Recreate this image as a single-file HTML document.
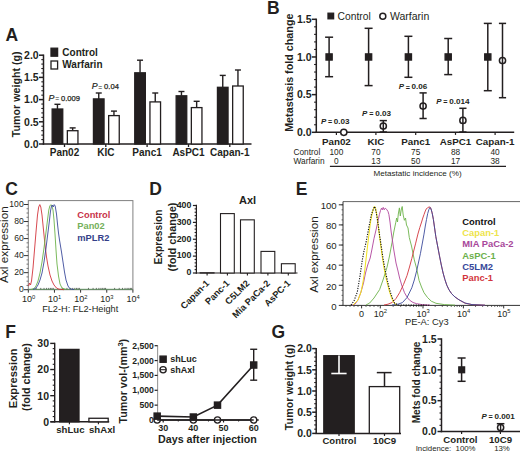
<!DOCTYPE html>
<html><head><meta charset="utf-8"><style>
html,body{margin:0;padding:0;background:#fff;}
svg{display:block;font-family:'Liberation Sans', sans-serif;}
</style></head><body>
<svg width="520" height="452" viewBox="0 0 520 452">
<rect width="520" height="452" fill="#fff"/>
<text x="5.60" y="41.40" font-size="17.5" font-weight="bold" text-anchor="start" fill="#231f20"  style="">A</text>
<line x1="43.50" y1="54.50" x2="43.50" y2="144.70" stroke="#231f20" stroke-width="1.5" />
<line x1="39.00" y1="55.20" x2="43.50" y2="55.20" stroke="#231f20" stroke-width="1.5" />
<line x1="39.00" y1="77.40" x2="43.50" y2="77.40" stroke="#231f20" stroke-width="1.5" />
<line x1="39.00" y1="99.60" x2="43.50" y2="99.60" stroke="#231f20" stroke-width="1.5" />
<line x1="39.00" y1="121.80" x2="43.50" y2="121.80" stroke="#231f20" stroke-width="1.5" />
<line x1="39.00" y1="144.00" x2="43.50" y2="144.00" stroke="#231f20" stroke-width="1.5" />
<line x1="41.30" y1="59.64" x2="43.50" y2="59.64" stroke="#231f20" stroke-width="1.1" />
<line x1="41.30" y1="64.08" x2="43.50" y2="64.08" stroke="#231f20" stroke-width="1.1" />
<line x1="41.30" y1="68.52" x2="43.50" y2="68.52" stroke="#231f20" stroke-width="1.1" />
<line x1="41.30" y1="72.96" x2="43.50" y2="72.96" stroke="#231f20" stroke-width="1.1" />
<line x1="41.30" y1="81.84" x2="43.50" y2="81.84" stroke="#231f20" stroke-width="1.1" />
<line x1="41.30" y1="86.28" x2="43.50" y2="86.28" stroke="#231f20" stroke-width="1.1" />
<line x1="41.30" y1="90.72" x2="43.50" y2="90.72" stroke="#231f20" stroke-width="1.1" />
<line x1="41.30" y1="95.16" x2="43.50" y2="95.16" stroke="#231f20" stroke-width="1.1" />
<line x1="41.30" y1="104.04" x2="43.50" y2="104.04" stroke="#231f20" stroke-width="1.1" />
<line x1="41.30" y1="108.48" x2="43.50" y2="108.48" stroke="#231f20" stroke-width="1.1" />
<line x1="41.30" y1="112.92" x2="43.50" y2="112.92" stroke="#231f20" stroke-width="1.1" />
<line x1="41.30" y1="117.36" x2="43.50" y2="117.36" stroke="#231f20" stroke-width="1.1" />
<line x1="41.30" y1="126.24" x2="43.50" y2="126.24" stroke="#231f20" stroke-width="1.1" />
<line x1="41.30" y1="130.68" x2="43.50" y2="130.68" stroke="#231f20" stroke-width="1.1" />
<line x1="41.30" y1="135.12" x2="43.50" y2="135.12" stroke="#231f20" stroke-width="1.1" />
<line x1="41.30" y1="139.56" x2="43.50" y2="139.56" stroke="#231f20" stroke-width="1.1" />
<line x1="42.80" y1="144.00" x2="251.50" y2="144.00" stroke="#231f20" stroke-width="1.5" />
<text x="38.70" y="59.00" font-size="10.5" font-weight="bold" text-anchor="end" fill="#231f20"  style="">2.0</text>
<text x="38.70" y="81.20" font-size="10.5" font-weight="bold" text-anchor="end" fill="#231f20"  style="">1.5</text>
<text x="38.70" y="103.40" font-size="10.5" font-weight="bold" text-anchor="end" fill="#231f20"  style="">1.0</text>
<text x="38.70" y="125.60" font-size="10.5" font-weight="bold" text-anchor="end" fill="#231f20"  style="">0.5</text>
<text x="38.70" y="147.80" font-size="10.5" font-weight="bold" text-anchor="end" fill="#231f20"  style="">0.0</text>
<text transform="translate(20.10,94.30) rotate(-90)" x="0" y="0" font-size="10.7" font-weight="bold" text-anchor="middle" fill="#231f20">Tumor weight (g)</text>
<rect x="51.00" y="48.20" width="6.60" height="8.00" fill="#231f20" stroke="#231f20" stroke-width="1.3"/>
<rect x="51.00" y="61.00" width="6.60" height="8.00" fill="#fff" stroke="#231f20" stroke-width="1.3"/>
<text x="62.30" y="55.90" font-size="10" font-weight="bold" text-anchor="start" fill="#231f20"  style="">Control</text>
<text x="62.30" y="68.40" font-size="10" font-weight="bold" text-anchor="start" fill="#231f20"  style="">Warfarin</text>
<line x1="57.45" y1="109.00" x2="57.45" y2="104.30" stroke="#231f20" stroke-width="1.4" />
<line x1="54.45" y1="104.30" x2="60.45" y2="104.30" stroke="#231f20" stroke-width="1.4" />
<rect x="52.15" y="109.00" width="10.60" height="35.00" fill="#231f20" stroke="#231f20" stroke-width="1.3"/>
<line x1="72.65" y1="130.70" x2="72.65" y2="127.90" stroke="#231f20" stroke-width="1.4" />
<line x1="69.65" y1="127.90" x2="75.65" y2="127.90" stroke="#231f20" stroke-width="1.4" />
<rect x="67.35" y="130.70" width="10.60" height="13.30" fill="#fff" stroke="#231f20" stroke-width="1.3"/>
<line x1="64.50" y1="144.00" x2="64.50" y2="147.00" stroke="#231f20" stroke-width="1.3" />
<text x="64.50" y="155.50" font-size="10" font-weight="bold" text-anchor="middle" fill="#231f20"  style="">Pan02</text>
<line x1="98.75" y1="98.90" x2="98.75" y2="93.00" stroke="#231f20" stroke-width="1.4" />
<line x1="95.75" y1="93.00" x2="101.75" y2="93.00" stroke="#231f20" stroke-width="1.4" />
<rect x="93.45" y="98.90" width="10.60" height="45.10" fill="#231f20" stroke="#231f20" stroke-width="1.3"/>
<line x1="113.95" y1="115.60" x2="113.95" y2="111.10" stroke="#231f20" stroke-width="1.4" />
<line x1="110.95" y1="111.10" x2="116.95" y2="111.10" stroke="#231f20" stroke-width="1.4" />
<rect x="108.65" y="115.60" width="10.60" height="28.40" fill="#fff" stroke="#231f20" stroke-width="1.3"/>
<line x1="105.80" y1="144.00" x2="105.80" y2="147.00" stroke="#231f20" stroke-width="1.3" />
<text x="105.80" y="155.50" font-size="10" font-weight="bold" text-anchor="middle" fill="#231f20"  style="">KIC</text>
<line x1="140.05" y1="72.80" x2="140.05" y2="60.20" stroke="#231f20" stroke-width="1.4" />
<line x1="137.05" y1="60.20" x2="143.05" y2="60.20" stroke="#231f20" stroke-width="1.4" />
<rect x="134.75" y="72.80" width="10.60" height="71.20" fill="#231f20" stroke="#231f20" stroke-width="1.3"/>
<line x1="155.25" y1="101.90" x2="155.25" y2="93.00" stroke="#231f20" stroke-width="1.4" />
<line x1="152.25" y1="93.00" x2="158.25" y2="93.00" stroke="#231f20" stroke-width="1.4" />
<rect x="149.95" y="101.90" width="10.60" height="42.10" fill="#fff" stroke="#231f20" stroke-width="1.3"/>
<line x1="147.10" y1="144.00" x2="147.10" y2="147.00" stroke="#231f20" stroke-width="1.3" />
<text x="147.10" y="155.50" font-size="10" font-weight="bold" text-anchor="middle" fill="#231f20"  style="">Panc1</text>
<line x1="181.45" y1="95.80" x2="181.45" y2="91.50" stroke="#231f20" stroke-width="1.4" />
<line x1="178.45" y1="91.50" x2="184.45" y2="91.50" stroke="#231f20" stroke-width="1.4" />
<rect x="176.15" y="95.80" width="10.60" height="48.20" fill="#231f20" stroke="#231f20" stroke-width="1.3"/>
<line x1="196.65" y1="107.60" x2="196.65" y2="101.30" stroke="#231f20" stroke-width="1.4" />
<line x1="193.65" y1="101.30" x2="199.65" y2="101.30" stroke="#231f20" stroke-width="1.4" />
<rect x="191.35" y="107.60" width="10.60" height="36.40" fill="#fff" stroke="#231f20" stroke-width="1.3"/>
<line x1="188.50" y1="144.00" x2="188.50" y2="147.00" stroke="#231f20" stroke-width="1.3" />
<text x="188.50" y="155.50" font-size="10" font-weight="bold" text-anchor="middle" fill="#231f20"  style="">AsPC1</text>
<line x1="222.75" y1="87.30" x2="222.75" y2="75.40" stroke="#231f20" stroke-width="1.4" />
<line x1="219.75" y1="75.40" x2="225.75" y2="75.40" stroke="#231f20" stroke-width="1.4" />
<rect x="217.45" y="87.30" width="10.60" height="56.70" fill="#231f20" stroke="#231f20" stroke-width="1.3"/>
<line x1="237.95" y1="86.00" x2="237.95" y2="70.00" stroke="#231f20" stroke-width="1.4" />
<line x1="234.95" y1="70.00" x2="240.95" y2="70.00" stroke="#231f20" stroke-width="1.4" />
<rect x="232.65" y="86.00" width="10.60" height="58.00" fill="#fff" stroke="#231f20" stroke-width="1.3"/>
<line x1="229.80" y1="144.00" x2="229.80" y2="147.00" stroke="#231f20" stroke-width="1.3" />
<text x="229.80" y="155.50" font-size="10" font-weight="bold" text-anchor="middle" fill="#231f20"  style="">Capan-1</text>
<text y="100.5" font-size="7.6" fill="#231f20"><tspan x="48.6" font-style="italic" font-size="8.8" stroke="#231f20" stroke-width="0.2">P</tspan><tspan x="55.2" font-size="6.8" dy="0.3">=</tspan><tspan x="61.0" dy="-0.3" stroke="#231f20" stroke-width="0.25">0.009</tspan></text>
<text y="89.4" font-size="7.6" fill="#231f20"><tspan x="91.7" font-style="italic" font-size="8.8" stroke="#231f20" stroke-width="0.2">P</tspan><tspan x="98.3" font-size="6.8" dy="0.3">=</tspan><tspan x="104.1" dy="-0.3" stroke="#231f20" stroke-width="0.25">0.04</tspan></text>
<text x="267.00" y="14.30" font-size="17.5" font-weight="bold" text-anchor="start" fill="#231f20"  style="">B</text>
<line x1="316.30" y1="18.60" x2="316.30" y2="133.00" stroke="#231f20" stroke-width="1.5" />
<line x1="311.80" y1="19.30" x2="316.30" y2="19.30" stroke="#231f20" stroke-width="1.5" />
<line x1="311.80" y1="56.97" x2="316.30" y2="56.97" stroke="#231f20" stroke-width="1.5" />
<line x1="311.80" y1="94.63" x2="316.30" y2="94.63" stroke="#231f20" stroke-width="1.5" />
<line x1="311.80" y1="132.30" x2="316.30" y2="132.30" stroke="#231f20" stroke-width="1.5" />
<line x1="314.10" y1="26.83" x2="316.30" y2="26.83" stroke="#231f20" stroke-width="1.1" />
<line x1="314.10" y1="34.37" x2="316.30" y2="34.37" stroke="#231f20" stroke-width="1.1" />
<line x1="314.10" y1="41.90" x2="316.30" y2="41.90" stroke="#231f20" stroke-width="1.1" />
<line x1="314.10" y1="49.43" x2="316.30" y2="49.43" stroke="#231f20" stroke-width="1.1" />
<line x1="314.10" y1="64.50" x2="316.30" y2="64.50" stroke="#231f20" stroke-width="1.1" />
<line x1="314.10" y1="72.03" x2="316.30" y2="72.03" stroke="#231f20" stroke-width="1.1" />
<line x1="314.10" y1="79.57" x2="316.30" y2="79.57" stroke="#231f20" stroke-width="1.1" />
<line x1="314.10" y1="87.10" x2="316.30" y2="87.10" stroke="#231f20" stroke-width="1.1" />
<line x1="314.10" y1="102.17" x2="316.30" y2="102.17" stroke="#231f20" stroke-width="1.1" />
<line x1="314.10" y1="109.70" x2="316.30" y2="109.70" stroke="#231f20" stroke-width="1.1" />
<line x1="314.10" y1="117.23" x2="316.30" y2="117.23" stroke="#231f20" stroke-width="1.1" />
<line x1="314.10" y1="124.77" x2="316.30" y2="124.77" stroke="#231f20" stroke-width="1.1" />
<line x1="315.60" y1="132.30" x2="514.20" y2="132.30" stroke="#231f20" stroke-width="1.5" />
<text x="311.60" y="23.10" font-size="10.5" font-weight="bold" text-anchor="end" fill="#231f20"  style="">1.5</text>
<text x="311.60" y="60.77" font-size="10.5" font-weight="bold" text-anchor="end" fill="#231f20"  style="">1.0</text>
<text x="311.60" y="98.43" font-size="10.5" font-weight="bold" text-anchor="end" fill="#231f20"  style="">0.5</text>
<text x="311.60" y="136.10" font-size="10.5" font-weight="bold" text-anchor="end" fill="#231f20"  style="">0.0</text>
<text transform="translate(293.10,72.70) rotate(-90)" x="0" y="0" font-size="10.75" font-weight="bold" text-anchor="middle" fill="#231f20">Metastasis fold change</text>
<rect x="328.00" y="13.20" width="5.60" height="5.60" fill="#231f20" stroke="#231f20" stroke-width="1.3"/>
<circle cx="382.8" cy="16.2" r="3.0" fill="#fff" stroke="#231f20" stroke-width="1.5"/>
<text x="337.60" y="19.80" font-size="10.3" font-weight="normal" text-anchor="start" fill="#231f20"  style="">Control</text>
<text x="390.00" y="19.80" font-size="10.5" font-weight="normal" text-anchor="start" fill="#231f20"  style="">Warfarin</text>
<line x1="329.10" y1="37.20" x2="329.10" y2="76.70" stroke="#231f20" stroke-width="1.5" />
<line x1="325.10" y1="37.20" x2="333.10" y2="37.20" stroke="#231f20" stroke-width="1.5" />
<line x1="325.10" y1="76.70" x2="333.10" y2="76.70" stroke="#231f20" stroke-width="1.5" />
<rect x="326.00" y="53.87" width="6.20" height="6.20" fill="#231f20" stroke="#231f20" stroke-width="1.3"/>
<circle cx="343.80" cy="132.30" r="3.1" fill="#fff" stroke="#231f20" stroke-width="1.5"/>
<text x="336.40" y="144.50" font-size="9.8" font-weight="bold" text-anchor="middle" fill="#231f20"  style="">Pan02</text>
<line x1="336.40" y1="132.30" x2="336.40" y2="134.90" stroke="#231f20" stroke-width="1.2" />
<text x="336.40" y="155.40" font-size="8.3" font-weight="normal" text-anchor="middle" fill="#231f20"  style="">100</text>
<text x="336.40" y="163.90" font-size="8.3" font-weight="normal" text-anchor="middle" fill="#231f20"  style="">0</text>
<text y="123.50" font-size="8.1" fill="#231f20"><tspan x="321.00" font-style="italic" font-weight="bold" font-size="7.9">P</tspan><tspan x="328.10" font-weight="bold" font-size="7.2" dy="0.4">=</tspan><tspan x="333.80" font-weight="bold" dy="-0.4">0.03</tspan></text>
<line x1="368.60" y1="28.30" x2="368.60" y2="85.60" stroke="#231f20" stroke-width="1.5" />
<line x1="364.60" y1="28.30" x2="372.60" y2="28.30" stroke="#231f20" stroke-width="1.5" />
<line x1="364.60" y1="85.60" x2="372.60" y2="85.60" stroke="#231f20" stroke-width="1.5" />
<rect x="365.50" y="53.87" width="6.20" height="6.20" fill="#231f20" stroke="#231f20" stroke-width="1.3"/>
<circle cx="383.30" cy="126.10" r="3.1" fill="#fff" stroke="#231f20" stroke-width="1.5"/>
<line x1="383.30" y1="120.60" x2="383.30" y2="132.00" stroke="#231f20" stroke-width="1.5" />
<line x1="379.70" y1="120.60" x2="386.90" y2="120.60" stroke="#231f20" stroke-width="1.5" />
<line x1="379.70" y1="132.00" x2="386.90" y2="132.00" stroke="#231f20" stroke-width="1.5" />
<text x="375.90" y="144.50" font-size="9.8" font-weight="bold" text-anchor="middle" fill="#231f20"  style="">KIC</text>
<line x1="375.90" y1="132.30" x2="375.90" y2="134.90" stroke="#231f20" stroke-width="1.2" />
<text x="375.90" y="155.40" font-size="8.3" font-weight="normal" text-anchor="middle" fill="#231f20"  style="">70</text>
<text x="375.90" y="163.90" font-size="8.3" font-weight="normal" text-anchor="middle" fill="#231f20"  style="">13</text>
<text y="116.00" font-size="8.1" fill="#231f20"><tspan x="362.10" font-style="italic" font-weight="bold" font-size="7.9">P</tspan><tspan x="369.20" font-weight="bold" font-size="7.2" dy="0.4">=</tspan><tspan x="375.20" font-weight="bold" dy="-0.4">0.03</tspan></text>
<line x1="408.40" y1="36.30" x2="408.40" y2="77.30" stroke="#231f20" stroke-width="1.5" />
<line x1="404.40" y1="36.30" x2="412.40" y2="36.30" stroke="#231f20" stroke-width="1.5" />
<line x1="404.40" y1="77.30" x2="412.40" y2="77.30" stroke="#231f20" stroke-width="1.5" />
<rect x="405.30" y="53.87" width="6.20" height="6.20" fill="#231f20" stroke="#231f20" stroke-width="1.3"/>
<circle cx="423.10" cy="106.10" r="3.1" fill="#fff" stroke="#231f20" stroke-width="1.5"/>
<line x1="423.10" y1="92.90" x2="423.10" y2="118.50" stroke="#231f20" stroke-width="1.5" />
<line x1="419.50" y1="92.90" x2="426.70" y2="92.90" stroke="#231f20" stroke-width="1.5" />
<line x1="419.50" y1="118.50" x2="426.70" y2="118.50" stroke="#231f20" stroke-width="1.5" />
<text x="415.70" y="144.50" font-size="9.8" font-weight="bold" text-anchor="middle" fill="#231f20"  style="">Panc1</text>
<line x1="415.70" y1="132.30" x2="415.70" y2="134.90" stroke="#231f20" stroke-width="1.2" />
<text x="415.70" y="155.40" font-size="8.3" font-weight="normal" text-anchor="middle" fill="#231f20"  style="">75</text>
<text x="415.70" y="163.90" font-size="8.3" font-weight="normal" text-anchor="middle" fill="#231f20"  style="">50</text>
<text y="89.30" font-size="8.1" fill="#231f20"><tspan x="398.70" font-style="italic" font-weight="bold" font-size="7.9">P</tspan><tspan x="405.80" font-weight="bold" font-size="7.2" dy="0.4">=</tspan><tspan x="411.60" font-weight="bold" dy="-0.4">0.06</tspan></text>
<line x1="448.20" y1="38.50" x2="448.20" y2="74.60" stroke="#231f20" stroke-width="1.5" />
<line x1="444.20" y1="38.50" x2="452.20" y2="38.50" stroke="#231f20" stroke-width="1.5" />
<line x1="444.20" y1="74.60" x2="452.20" y2="74.60" stroke="#231f20" stroke-width="1.5" />
<rect x="445.10" y="53.87" width="6.20" height="6.20" fill="#231f20" stroke="#231f20" stroke-width="1.3"/>
<circle cx="462.90" cy="120.40" r="3.1" fill="#fff" stroke="#231f20" stroke-width="1.5"/>
<line x1="462.90" y1="108.30" x2="462.90" y2="132.00" stroke="#231f20" stroke-width="1.5" />
<line x1="459.30" y1="108.30" x2="466.50" y2="108.30" stroke="#231f20" stroke-width="1.5" />
<line x1="459.30" y1="132.00" x2="466.50" y2="132.00" stroke="#231f20" stroke-width="1.5" />
<text x="455.50" y="144.50" font-size="9.8" font-weight="bold" text-anchor="middle" fill="#231f20"  style="">AsPC1</text>
<line x1="455.50" y1="132.30" x2="455.50" y2="134.90" stroke="#231f20" stroke-width="1.2" />
<text x="455.50" y="155.40" font-size="8.3" font-weight="normal" text-anchor="middle" fill="#231f20"  style="">88</text>
<text x="455.50" y="163.90" font-size="8.3" font-weight="normal" text-anchor="middle" fill="#231f20"  style="">17</text>
<text y="103.50" font-size="8.1" fill="#231f20"><tspan x="436.20" font-style="italic" font-weight="bold" font-size="7.9">P</tspan><tspan x="443.30" font-weight="bold" font-size="7.2" dy="0.4">=</tspan><tspan x="449.30" font-weight="bold" dy="-0.4">0.014</tspan></text>
<line x1="487.80" y1="23.40" x2="487.80" y2="90.70" stroke="#231f20" stroke-width="1.5" />
<line x1="483.80" y1="23.40" x2="491.80" y2="23.40" stroke="#231f20" stroke-width="1.5" />
<line x1="483.80" y1="90.70" x2="491.80" y2="90.70" stroke="#231f20" stroke-width="1.5" />
<rect x="484.70" y="53.87" width="6.20" height="6.20" fill="#231f20" stroke="#231f20" stroke-width="1.3"/>
<circle cx="502.50" cy="60.60" r="3.1" fill="#fff" stroke="#231f20" stroke-width="1.5"/>
<line x1="502.50" y1="23.40" x2="502.50" y2="97.70" stroke="#231f20" stroke-width="1.5" />
<line x1="498.90" y1="23.40" x2="506.10" y2="23.40" stroke="#231f20" stroke-width="1.5" />
<line x1="498.90" y1="97.70" x2="506.10" y2="97.70" stroke="#231f20" stroke-width="1.5" />
<text x="495.10" y="144.50" font-size="9.8" font-weight="bold" text-anchor="middle" fill="#231f20"  style="">Capan-1</text>
<line x1="495.10" y1="132.30" x2="495.10" y2="134.90" stroke="#231f20" stroke-width="1.2" />
<text x="495.10" y="155.40" font-size="8.3" font-weight="normal" text-anchor="middle" fill="#231f20"  style="">40</text>
<text x="495.10" y="163.90" font-size="8.3" font-weight="normal" text-anchor="middle" fill="#231f20"  style="">38</text>
<text x="293.50" y="155.40" font-size="8.3" font-weight="normal" text-anchor="start" fill="#231f20"  style="">Control</text>
<text x="293.50" y="163.90" font-size="8.3" font-weight="normal" text-anchor="start" fill="#231f20"  style="">Warfarin</text>
<line x1="329.90" y1="166.30" x2="506.00" y2="166.30" stroke="#231f20" stroke-width="1.2" />
<text x="417.60" y="176.20" font-size="8.1" font-weight="normal" text-anchor="middle" fill="#231f20"  style="">Metastatic incidence (%)</text>
<text x="5.20" y="195.20" font-size="17.5" font-weight="bold" text-anchor="start" fill="#231f20"  style="">C</text>
<rect x="28.3" y="200.6" width="104.60" height="89.10" fill="none" stroke="#808080" stroke-width="1"/>
<line x1="23.80" y1="289.70" x2="28.30" y2="289.70" stroke="#333" stroke-width="1.0" />
<text x="23.70" y="292.30" font-size="8.6" font-weight="normal" text-anchor="end" fill="#231f20"  style="">0</text>
<line x1="23.80" y1="272.66" x2="28.30" y2="272.66" stroke="#333" stroke-width="1.0" />
<text x="23.70" y="275.26" font-size="8.6" font-weight="normal" text-anchor="end" fill="#231f20"  style="">20</text>
<line x1="23.80" y1="255.62" x2="28.30" y2="255.62" stroke="#333" stroke-width="1.0" />
<text x="23.70" y="258.22" font-size="8.6" font-weight="normal" text-anchor="end" fill="#231f20"  style="">40</text>
<line x1="23.80" y1="238.58" x2="28.30" y2="238.58" stroke="#333" stroke-width="1.0" />
<text x="23.70" y="241.18" font-size="8.6" font-weight="normal" text-anchor="end" fill="#231f20"  style="">60</text>
<line x1="23.80" y1="221.54" x2="28.30" y2="221.54" stroke="#333" stroke-width="1.0" />
<text x="23.70" y="224.14" font-size="8.6" font-weight="normal" text-anchor="end" fill="#231f20"  style="">80</text>
<line x1="23.80" y1="204.50" x2="28.30" y2="204.50" stroke="#333" stroke-width="1.0" />
<text x="23.70" y="207.10" font-size="8.6" font-weight="normal" text-anchor="end" fill="#231f20"  style="">100</text>
<line x1="26.50" y1="285.44" x2="28.30" y2="285.44" stroke="#444" stroke-width="0.7" />
<line x1="26.50" y1="281.18" x2="28.30" y2="281.18" stroke="#444" stroke-width="0.7" />
<line x1="26.50" y1="276.92" x2="28.30" y2="276.92" stroke="#444" stroke-width="0.7" />
<line x1="26.50" y1="268.40" x2="28.30" y2="268.40" stroke="#444" stroke-width="0.7" />
<line x1="26.50" y1="264.14" x2="28.30" y2="264.14" stroke="#444" stroke-width="0.7" />
<line x1="26.50" y1="259.88" x2="28.30" y2="259.88" stroke="#444" stroke-width="0.7" />
<line x1="26.50" y1="251.36" x2="28.30" y2="251.36" stroke="#444" stroke-width="0.7" />
<line x1="26.50" y1="247.10" x2="28.30" y2="247.10" stroke="#444" stroke-width="0.7" />
<line x1="26.50" y1="242.84" x2="28.30" y2="242.84" stroke="#444" stroke-width="0.7" />
<line x1="26.50" y1="234.32" x2="28.30" y2="234.32" stroke="#444" stroke-width="0.7" />
<line x1="26.50" y1="230.06" x2="28.30" y2="230.06" stroke="#444" stroke-width="0.7" />
<line x1="26.50" y1="225.80" x2="28.30" y2="225.80" stroke="#444" stroke-width="0.7" />
<line x1="26.50" y1="217.28" x2="28.30" y2="217.28" stroke="#444" stroke-width="0.7" />
<line x1="26.50" y1="213.02" x2="28.30" y2="213.02" stroke="#444" stroke-width="0.7" />
<line x1="26.50" y1="208.76" x2="28.30" y2="208.76" stroke="#444" stroke-width="0.7" />
<line x1="28.30" y1="289.70" x2="28.30" y2="292.70" stroke="#333" stroke-width="1.0" />
<text x="21.90" y="302.3" font-size="9" fill="#231f20">10<tspan dy="-3.6" font-size="5.8">0</tspan></text>
<line x1="36.17" y1="289.70" x2="36.17" y2="287.90" stroke="#444" stroke-width="0.8" />
<line x1="40.78" y1="289.70" x2="40.78" y2="287.90" stroke="#444" stroke-width="0.8" />
<line x1="44.04" y1="289.70" x2="44.04" y2="287.90" stroke="#444" stroke-width="0.8" />
<line x1="46.58" y1="289.70" x2="46.58" y2="287.90" stroke="#444" stroke-width="0.8" />
<line x1="48.65" y1="289.70" x2="48.65" y2="287.90" stroke="#444" stroke-width="0.8" />
<line x1="50.40" y1="289.70" x2="50.40" y2="287.90" stroke="#444" stroke-width="0.8" />
<line x1="51.92" y1="289.70" x2="51.92" y2="287.90" stroke="#444" stroke-width="0.8" />
<line x1="53.25" y1="289.70" x2="53.25" y2="287.90" stroke="#444" stroke-width="0.8" />
<line x1="54.45" y1="289.70" x2="54.45" y2="292.70" stroke="#333" stroke-width="1.0" />
<text x="48.05" y="302.3" font-size="9" fill="#231f20">10<tspan dy="-3.6" font-size="5.8">1</tspan></text>
<line x1="62.32" y1="289.70" x2="62.32" y2="287.90" stroke="#444" stroke-width="0.8" />
<line x1="66.93" y1="289.70" x2="66.93" y2="287.90" stroke="#444" stroke-width="0.8" />
<line x1="70.19" y1="289.70" x2="70.19" y2="287.90" stroke="#444" stroke-width="0.8" />
<line x1="72.73" y1="289.70" x2="72.73" y2="287.90" stroke="#444" stroke-width="0.8" />
<line x1="74.80" y1="289.70" x2="74.80" y2="287.90" stroke="#444" stroke-width="0.8" />
<line x1="76.55" y1="289.70" x2="76.55" y2="287.90" stroke="#444" stroke-width="0.8" />
<line x1="78.07" y1="289.70" x2="78.07" y2="287.90" stroke="#444" stroke-width="0.8" />
<line x1="79.40" y1="289.70" x2="79.40" y2="287.90" stroke="#444" stroke-width="0.8" />
<line x1="80.60" y1="289.70" x2="80.60" y2="292.70" stroke="#333" stroke-width="1.0" />
<text x="74.20" y="302.3" font-size="9" fill="#231f20">10<tspan dy="-3.6" font-size="5.8">2</tspan></text>
<line x1="88.47" y1="289.70" x2="88.47" y2="287.90" stroke="#444" stroke-width="0.8" />
<line x1="93.08" y1="289.70" x2="93.08" y2="287.90" stroke="#444" stroke-width="0.8" />
<line x1="96.34" y1="289.70" x2="96.34" y2="287.90" stroke="#444" stroke-width="0.8" />
<line x1="98.88" y1="289.70" x2="98.88" y2="287.90" stroke="#444" stroke-width="0.8" />
<line x1="100.95" y1="289.70" x2="100.95" y2="287.90" stroke="#444" stroke-width="0.8" />
<line x1="102.70" y1="289.70" x2="102.70" y2="287.90" stroke="#444" stroke-width="0.8" />
<line x1="104.22" y1="289.70" x2="104.22" y2="287.90" stroke="#444" stroke-width="0.8" />
<line x1="105.55" y1="289.70" x2="105.55" y2="287.90" stroke="#444" stroke-width="0.8" />
<line x1="106.75" y1="289.70" x2="106.75" y2="292.70" stroke="#333" stroke-width="1.0" />
<text x="100.35" y="302.3" font-size="9" fill="#231f20">10<tspan dy="-3.6" font-size="5.8">3</tspan></text>
<line x1="114.62" y1="289.70" x2="114.62" y2="287.90" stroke="#444" stroke-width="0.8" />
<line x1="119.23" y1="289.70" x2="119.23" y2="287.90" stroke="#444" stroke-width="0.8" />
<line x1="122.49" y1="289.70" x2="122.49" y2="287.90" stroke="#444" stroke-width="0.8" />
<line x1="125.03" y1="289.70" x2="125.03" y2="287.90" stroke="#444" stroke-width="0.8" />
<line x1="127.10" y1="289.70" x2="127.10" y2="287.90" stroke="#444" stroke-width="0.8" />
<line x1="128.85" y1="289.70" x2="128.85" y2="287.90" stroke="#444" stroke-width="0.8" />
<line x1="130.37" y1="289.70" x2="130.37" y2="287.90" stroke="#444" stroke-width="0.8" />
<line x1="131.70" y1="289.70" x2="131.70" y2="287.90" stroke="#444" stroke-width="0.8" />
<line x1="132.90" y1="289.70" x2="132.90" y2="292.70" stroke="#333" stroke-width="1.0" />
<text x="126.50" y="302.3" font-size="9" fill="#231f20">10<tspan dy="-3.6" font-size="5.8">4</tspan></text>
<text transform="translate(8.20,244.60) rotate(-90)" x="0" y="0" font-size="11.8" font-weight="normal" text-anchor="middle" fill="#231f20">Axl expression</text>
<text x="80.20" y="312.20" font-size="9.2" font-weight="normal" text-anchor="middle" fill="#231f20"  style="">FL2-H: FL2-Height</text>
<text x="77.30" y="217.50" font-size="9.3" font-weight="bold" text-anchor="start" fill="#c8324a"  style="">Control</text>
<text x="77.30" y="229.40" font-size="9.3" font-weight="bold" text-anchor="start" fill="#74b05a"  style="">Pan02</text>
<text x="77.30" y="240.90" font-size="9.3" font-weight="bold" text-anchor="start" fill="#343f8a"  style="">mPLR2</text>
<line x1="28.80" y1="289.30" x2="132.40" y2="289.30" stroke="#5f8f5f" stroke-width="1.0" />
<polyline points="28.60,286.00 29.50,283.00 30.50,285.00 31.50,281.00 33.00,268.00 34.50,250.00 36.00,232.00 37.50,215.00 38.70,207.00 39.80,204.60 40.80,207.00 42.00,215.00 43.50,230.00 45.00,245.00 46.50,257.00 48.00,266.00 50.00,275.00 52.00,281.00 54.00,285.00 56.50,288.00 59.00,289.20 64.00,289.70" fill="none" stroke="#d2343c" stroke-width="0.9" stroke-linejoin="round" />
<polyline points="31.00,289.50 34.00,288.50 36.00,286.00 38.00,281.00 40.00,273.00 42.00,262.00 44.00,248.00 46.00,232.00 47.50,220.00 48.80,210.00 49.80,206.00 50.80,204.70 51.80,205.50 53.00,210.00 54.00,220.00 55.00,234.00 56.00,250.00 57.00,264.00 58.50,276.00 60.00,284.00 62.00,288.00 66.00,289.50" fill="none" stroke="#6cb24a" stroke-width="0.9" stroke-linejoin="round" />
<polyline points="33.00,289.50 36.00,288.00 38.00,285.00 40.00,280.00 42.00,273.00 44.00,262.00 46.00,248.00 48.00,232.00 49.50,220.00 50.50,211.00 51.50,206.00 52.30,205.00 53.20,207.00 54.20,204.60 55.20,206.00 56.50,214.00 57.50,224.00 58.50,233.00 59.50,240.00 60.50,246.00 61.50,252.00 63.00,262.00 64.50,272.00 66.00,280.00 68.00,286.00 70.00,288.80 74.00,289.60" fill="none" stroke="#3b4a9b" stroke-width="0.9" stroke-linejoin="round" />
<text x="149.30" y="195.30" font-size="17.5" font-weight="bold" text-anchor="start" fill="#231f20"  style="">D</text>
<line x1="196.40" y1="204.80" x2="196.40" y2="273.70" stroke="#231f20" stroke-width="1.2" />
<line x1="192.90" y1="205.50" x2="196.40" y2="205.50" stroke="#231f20" stroke-width="1.2" />
<line x1="192.90" y1="222.38" x2="196.40" y2="222.38" stroke="#231f20" stroke-width="1.2" />
<line x1="192.90" y1="239.25" x2="196.40" y2="239.25" stroke="#231f20" stroke-width="1.2" />
<line x1="192.90" y1="256.12" x2="196.40" y2="256.12" stroke="#231f20" stroke-width="1.2" />
<line x1="192.90" y1="273.00" x2="196.40" y2="273.00" stroke="#231f20" stroke-width="1.2" />
<line x1="194.60" y1="208.88" x2="196.40" y2="208.88" stroke="#231f20" stroke-width="1.1" />
<line x1="194.60" y1="212.25" x2="196.40" y2="212.25" stroke="#231f20" stroke-width="1.1" />
<line x1="194.60" y1="215.62" x2="196.40" y2="215.62" stroke="#231f20" stroke-width="1.1" />
<line x1="194.60" y1="219.00" x2="196.40" y2="219.00" stroke="#231f20" stroke-width="1.1" />
<line x1="194.60" y1="225.75" x2="196.40" y2="225.75" stroke="#231f20" stroke-width="1.1" />
<line x1="194.60" y1="229.12" x2="196.40" y2="229.12" stroke="#231f20" stroke-width="1.1" />
<line x1="194.60" y1="232.50" x2="196.40" y2="232.50" stroke="#231f20" stroke-width="1.1" />
<line x1="194.60" y1="235.88" x2="196.40" y2="235.88" stroke="#231f20" stroke-width="1.1" />
<line x1="194.60" y1="242.62" x2="196.40" y2="242.62" stroke="#231f20" stroke-width="1.1" />
<line x1="194.60" y1="246.00" x2="196.40" y2="246.00" stroke="#231f20" stroke-width="1.1" />
<line x1="194.60" y1="249.38" x2="196.40" y2="249.38" stroke="#231f20" stroke-width="1.1" />
<line x1="194.60" y1="252.75" x2="196.40" y2="252.75" stroke="#231f20" stroke-width="1.1" />
<line x1="194.60" y1="259.50" x2="196.40" y2="259.50" stroke="#231f20" stroke-width="1.1" />
<line x1="194.60" y1="262.88" x2="196.40" y2="262.88" stroke="#231f20" stroke-width="1.1" />
<line x1="194.60" y1="266.25" x2="196.40" y2="266.25" stroke="#231f20" stroke-width="1.1" />
<line x1="194.60" y1="269.62" x2="196.40" y2="269.62" stroke="#231f20" stroke-width="1.1" />
<line x1="195.80" y1="273.00" x2="297.50" y2="273.00" stroke="#231f20" stroke-width="1.2" />
<text x="191.40" y="207.80" font-size="8.8" font-weight="bold" text-anchor="end" fill="#231f20"  style="">400</text>
<text x="191.40" y="224.68" font-size="8.8" font-weight="bold" text-anchor="end" fill="#231f20"  style="">300</text>
<text x="191.40" y="241.55" font-size="8.8" font-weight="bold" text-anchor="end" fill="#231f20"  style="">200</text>
<text x="191.40" y="258.43" font-size="8.8" font-weight="bold" text-anchor="end" fill="#231f20"  style="">100</text>
<text x="191.40" y="275.30" font-size="8.8" font-weight="bold" text-anchor="end" fill="#231f20"  style="">0</text>
<text transform="translate(162.20,237.00) rotate(-90)" x="0" y="0" font-size="10.2" font-weight="bold" text-anchor="middle" fill="#231f20">Expression</text>
<text transform="translate(175.60,237.00) rotate(-90)" x="0" y="0" font-size="11.0" font-weight="bold" text-anchor="middle" fill="#231f20">(fold change)</text>
<text x="247.60" y="204.00" font-size="11" font-weight="bold" text-anchor="middle" fill="#231f20"  style="">Axl</text>
<rect x="200.20" y="272.75" width="13.80" height="0.25" fill="#fff" stroke="#231f20" stroke-width="1.1"/>
<line x1="207.10" y1="273.00" x2="207.10" y2="275.50" stroke="#231f20" stroke-width="1.1" />
<text transform="translate(209.85,284.00) rotate(-45)" x="0" y="0" font-size="9.2" font-weight="bold" text-anchor="end" fill="#231f20">Capan-1</text>
<rect x="220.50" y="213.60" width="13.80" height="59.40" fill="#fff" stroke="#231f20" stroke-width="1.1"/>
<line x1="227.40" y1="273.00" x2="227.40" y2="275.50" stroke="#231f20" stroke-width="1.1" />
<text transform="translate(230.15,284.00) rotate(-45)" x="0" y="0" font-size="9.2" font-weight="bold" text-anchor="end" fill="#231f20">Panc-1</text>
<rect x="240.50" y="219.84" width="13.80" height="53.16" fill="#fff" stroke="#231f20" stroke-width="1.1"/>
<line x1="247.40" y1="273.00" x2="247.40" y2="275.50" stroke="#231f20" stroke-width="1.1" />
<text transform="translate(250.15,284.00) rotate(-45)" x="0" y="0" font-size="9.2" font-weight="bold" text-anchor="end" fill="#231f20">C5LM2</text>
<rect x="261.00" y="251.40" width="13.80" height="21.60" fill="#fff" stroke="#231f20" stroke-width="1.1"/>
<line x1="267.90" y1="273.00" x2="267.90" y2="275.50" stroke="#231f20" stroke-width="1.1" />
<text transform="translate(270.65,284.00) rotate(-45)" x="0" y="0" font-size="9.2" font-weight="bold" text-anchor="end" fill="#231f20">Mia PaCa-2</text>
<rect x="281.40" y="263.72" width="13.80" height="9.28" fill="#fff" stroke="#231f20" stroke-width="1.1"/>
<line x1="288.30" y1="273.00" x2="288.30" y2="275.50" stroke="#231f20" stroke-width="1.1" />
<text transform="translate(291.05,284.00) rotate(-45)" x="0" y="0" font-size="9.2" font-weight="bold" text-anchor="end" fill="#231f20">AsPC-1</text>
<text x="295.80" y="195.20" font-size="17.5" font-weight="bold" text-anchor="start" fill="#231f20"  style="">E</text>
<line x1="343.0" y1="201.6" x2="520" y2="201.6" stroke="#666" stroke-width="1"/>
<line x1="343.00" y1="201.60" x2="343.00" y2="305.40" stroke="#333" stroke-width="1.0" />
<line x1="343.00" y1="305.40" x2="520.00" y2="305.40" stroke="#333" stroke-width="1.0" />
<line x1="338.80" y1="305.40" x2="343.00" y2="305.40" stroke="#333" stroke-width="1.0" />
<text x="336.70" y="309.80" font-size="9.6" font-weight="normal" text-anchor="end" fill="#231f20"  style="">0</text>
<line x1="338.80" y1="285.28" x2="343.00" y2="285.28" stroke="#333" stroke-width="1.0" />
<text x="336.70" y="289.68" font-size="9.6" font-weight="normal" text-anchor="end" fill="#231f20"  style="">20</text>
<line x1="338.80" y1="265.16" x2="343.00" y2="265.16" stroke="#333" stroke-width="1.0" />
<text x="336.70" y="269.56" font-size="9.6" font-weight="normal" text-anchor="end" fill="#231f20"  style="">40</text>
<line x1="338.80" y1="245.04" x2="343.00" y2="245.04" stroke="#333" stroke-width="1.0" />
<text x="336.70" y="249.44" font-size="9.6" font-weight="normal" text-anchor="end" fill="#231f20"  style="">60</text>
<line x1="338.80" y1="224.92" x2="343.00" y2="224.92" stroke="#333" stroke-width="1.0" />
<text x="336.70" y="229.32" font-size="9.6" font-weight="normal" text-anchor="end" fill="#231f20"  style="">80</text>
<line x1="338.80" y1="204.80" x2="343.00" y2="204.80" stroke="#333" stroke-width="1.0" />
<text x="336.70" y="209.20" font-size="9.6" font-weight="normal" text-anchor="end" fill="#231f20"  style="">100</text>
<line x1="341.50" y1="305.40" x2="343.00" y2="305.40" stroke="#333" stroke-width="0.7" />
<line x1="341.50" y1="300.37" x2="343.00" y2="300.37" stroke="#333" stroke-width="0.7" />
<line x1="341.50" y1="295.34" x2="343.00" y2="295.34" stroke="#333" stroke-width="0.7" />
<line x1="341.50" y1="290.31" x2="343.00" y2="290.31" stroke="#333" stroke-width="0.7" />
<line x1="341.50" y1="285.28" x2="343.00" y2="285.28" stroke="#333" stroke-width="0.7" />
<line x1="341.50" y1="280.25" x2="343.00" y2="280.25" stroke="#333" stroke-width="0.7" />
<line x1="341.50" y1="275.22" x2="343.00" y2="275.22" stroke="#333" stroke-width="0.7" />
<line x1="341.50" y1="270.19" x2="343.00" y2="270.19" stroke="#333" stroke-width="0.7" />
<line x1="341.50" y1="265.16" x2="343.00" y2="265.16" stroke="#333" stroke-width="0.7" />
<line x1="341.50" y1="260.13" x2="343.00" y2="260.13" stroke="#333" stroke-width="0.7" />
<line x1="341.50" y1="255.10" x2="343.00" y2="255.10" stroke="#333" stroke-width="0.7" />
<line x1="341.50" y1="250.07" x2="343.00" y2="250.07" stroke="#333" stroke-width="0.7" />
<line x1="341.50" y1="245.04" x2="343.00" y2="245.04" stroke="#333" stroke-width="0.7" />
<line x1="341.50" y1="240.01" x2="343.00" y2="240.01" stroke="#333" stroke-width="0.7" />
<line x1="341.50" y1="234.98" x2="343.00" y2="234.98" stroke="#333" stroke-width="0.7" />
<line x1="341.50" y1="229.95" x2="343.00" y2="229.95" stroke="#333" stroke-width="0.7" />
<line x1="341.50" y1="224.92" x2="343.00" y2="224.92" stroke="#333" stroke-width="0.7" />
<line x1="341.50" y1="219.89" x2="343.00" y2="219.89" stroke="#333" stroke-width="0.7" />
<line x1="341.50" y1="214.86" x2="343.00" y2="214.86" stroke="#333" stroke-width="0.7" />
<line x1="341.50" y1="209.83" x2="343.00" y2="209.83" stroke="#333" stroke-width="0.7" />
<line x1="341.50" y1="204.80" x2="343.00" y2="204.80" stroke="#333" stroke-width="0.7" />
<text transform="translate(317.80,254.50) rotate(-90)" x="0" y="0" font-size="11.8" font-weight="normal" text-anchor="middle" fill="#231f20">Axl expression</text>
<line x1="361.60" y1="305.40" x2="361.60" y2="308.40" stroke="#333" stroke-width="1.0" />
<text x="361.60" y="317.0" font-size="9" text-anchor="middle" fill="#231f20">0</text>
<line x1="380.30" y1="305.40" x2="380.30" y2="308.40" stroke="#333" stroke-width="1.0" />
<text x="373.80" y="317.0" font-size="9" fill="#231f20">10<tspan dy="-3.6" font-size="5.8">2</tspan></text>
<line x1="423.00" y1="305.40" x2="423.00" y2="308.40" stroke="#333" stroke-width="1.0" />
<text x="416.50" y="317.0" font-size="9" fill="#231f20">10<tspan dy="-3.6" font-size="5.8">3</tspan></text>
<line x1="463.40" y1="305.40" x2="463.40" y2="308.40" stroke="#333" stroke-width="1.0" />
<text x="456.90" y="317.0" font-size="9" fill="#231f20">10<tspan dy="-3.6" font-size="5.8">4</tspan></text>
<line x1="503.70" y1="305.40" x2="503.70" y2="308.40" stroke="#333" stroke-width="1.0" />
<text x="497.20" y="317.0" font-size="9" fill="#231f20">10<tspan dy="-3.6" font-size="5.8">5</tspan></text>
<line x1="393.15" y1="305.40" x2="393.15" y2="307.00" stroke="#333" stroke-width="0.7" />
<line x1="400.67" y1="305.40" x2="400.67" y2="307.00" stroke="#333" stroke-width="0.7" />
<line x1="406.01" y1="305.40" x2="406.01" y2="307.00" stroke="#333" stroke-width="0.7" />
<line x1="410.15" y1="305.40" x2="410.15" y2="307.00" stroke="#333" stroke-width="0.7" />
<line x1="413.53" y1="305.40" x2="413.53" y2="307.00" stroke="#333" stroke-width="0.7" />
<line x1="416.39" y1="305.40" x2="416.39" y2="307.00" stroke="#333" stroke-width="0.7" />
<line x1="418.86" y1="305.40" x2="418.86" y2="307.00" stroke="#333" stroke-width="0.7" />
<line x1="421.05" y1="305.40" x2="421.05" y2="307.00" stroke="#333" stroke-width="0.7" />
<line x1="435.16" y1="305.40" x2="435.16" y2="307.00" stroke="#333" stroke-width="0.7" />
<line x1="442.28" y1="305.40" x2="442.28" y2="307.00" stroke="#333" stroke-width="0.7" />
<line x1="447.32" y1="305.40" x2="447.32" y2="307.00" stroke="#333" stroke-width="0.7" />
<line x1="451.24" y1="305.40" x2="451.24" y2="307.00" stroke="#333" stroke-width="0.7" />
<line x1="454.44" y1="305.40" x2="454.44" y2="307.00" stroke="#333" stroke-width="0.7" />
<line x1="457.14" y1="305.40" x2="457.14" y2="307.00" stroke="#333" stroke-width="0.7" />
<line x1="459.48" y1="305.40" x2="459.48" y2="307.00" stroke="#333" stroke-width="0.7" />
<line x1="461.55" y1="305.40" x2="461.55" y2="307.00" stroke="#333" stroke-width="0.7" />
<line x1="475.53" y1="305.40" x2="475.53" y2="307.00" stroke="#333" stroke-width="0.7" />
<line x1="482.63" y1="305.40" x2="482.63" y2="307.00" stroke="#333" stroke-width="0.7" />
<line x1="487.66" y1="305.40" x2="487.66" y2="307.00" stroke="#333" stroke-width="0.7" />
<line x1="491.57" y1="305.40" x2="491.57" y2="307.00" stroke="#333" stroke-width="0.7" />
<line x1="494.76" y1="305.40" x2="494.76" y2="307.00" stroke="#333" stroke-width="0.7" />
<line x1="497.46" y1="305.40" x2="497.46" y2="307.00" stroke="#333" stroke-width="0.7" />
<line x1="499.79" y1="305.40" x2="499.79" y2="307.00" stroke="#333" stroke-width="0.7" />
<line x1="501.86" y1="305.40" x2="501.86" y2="307.00" stroke="#333" stroke-width="0.7" />
<line x1="346.00" y1="305.40" x2="346.00" y2="307.00" stroke="#333" stroke-width="0.7" />
<line x1="350.00" y1="305.40" x2="350.00" y2="307.00" stroke="#333" stroke-width="0.7" />
<line x1="354.00" y1="305.40" x2="354.00" y2="307.00" stroke="#333" stroke-width="0.7" />
<line x1="358.00" y1="305.40" x2="358.00" y2="307.00" stroke="#333" stroke-width="0.7" />
<line x1="366.00" y1="305.40" x2="366.00" y2="307.00" stroke="#333" stroke-width="0.7" />
<line x1="370.00" y1="305.40" x2="370.00" y2="307.00" stroke="#333" stroke-width="0.7" />
<line x1="374.00" y1="305.40" x2="374.00" y2="307.00" stroke="#333" stroke-width="0.7" />
<line x1="378.00" y1="305.40" x2="378.00" y2="307.00" stroke="#333" stroke-width="0.7" />
<text x="426.80" y="324.60" font-size="9.35" font-weight="normal" text-anchor="middle" fill="#231f20"  style="">PE-A: Cy3</text>
<text x="462.30" y="224.60" font-size="9.4" font-weight="bold" text-anchor="start" fill="#111"  style="">Control</text>
<text x="462.30" y="235.90" font-size="9.4" font-weight="bold" text-anchor="start" fill="#eee44a"  style="">Capan-1</text>
<text x="462.30" y="247.20" font-size="9.4" font-weight="bold" text-anchor="start" fill="#a8489a"  style="">MIA PaCa-2</text>
<text x="462.30" y="258.60" font-size="9.4" font-weight="bold" text-anchor="start" fill="#6cb04c"  style="">AsPC-1</text>
<text x="462.30" y="269.90" font-size="9.4" font-weight="bold" text-anchor="start" fill="#36479a"  style="">C5LM2</text>
<text x="462.30" y="281.20" font-size="9.4" font-weight="bold" text-anchor="start" fill="#d2343c"  style="">Panc-1</text>
<polyline points="366.00,305.00 369.70,303.00 374.00,298.00 379.60,289.60 383.00,280.00 387.00,267.30 389.50,256.00 392.00,242.60 393.80,232.00 395.70,222.80 396.70,218.00 397.50,222.00 398.30,214.00 399.40,207.90 400.30,216.00 401.20,210.00 402.20,206.50 403.20,215.00 404.40,220.30 405.50,218.00 406.50,225.00 408.00,228.00 409.30,237.60 411.50,246.00 414.30,259.90 416.50,268.00 419.10,280.50 421.50,287.00 424.00,292.70 427.50,297.50 431.30,301.20 436.00,303.30 444.30,304.60 455.00,305.10" fill="none" stroke="#6cb24a" stroke-width="0.9" stroke-linejoin="round" />
<polyline points="352.00,305.20 355.00,304.00 358.00,300.00 361.00,292.00 363.50,283.00 365.50,273.00 367.70,265.00 370.20,258.00 372.00,249.00 374.00,238.50 376.00,230.00 377.80,222.00 379.40,214.50 380.50,210.50 381.50,208.20 382.30,209.80 383.20,207.40 384.20,209.80 385.20,208.20 386.50,209.20 388.00,211.50 388.90,214.50 390.00,222.00 391.20,232.00 392.50,241.00 393.80,250.00 395.00,257.00 396.00,263.00 398.00,271.00 399.60,278.00 402.00,286.00 404.50,292.70 407.00,297.00 409.40,300.00 413.00,302.50 416.70,303.70 422.00,304.60 430.00,305.20" fill="none" stroke="#b0449c" stroke-width="0.9" stroke-linejoin="round" />
<polyline points="384.00,305.00 388.00,304.20 392.30,302.40 396.00,298.50 399.60,292.70 403.50,284.50 407.00,275.60 409.50,267.00 411.80,258.50 413.70,251.00 415.50,243.90 416.70,239.00 417.90,234.10 419.80,227.50 421.60,222.00 422.80,218.00 424.00,214.60 425.30,211.00 426.50,208.50 427.70,207.80 429.00,206.90 430.30,207.30 431.50,210.50 432.50,214.50 433.40,219.50 434.60,228.00 435.80,236.50 437.60,246.00 439.50,256.00 441.30,265.00 443.10,273.00 444.90,279.50 446.80,285.20 449.00,289.80 451.60,293.70 455.00,297.00 459.00,299.80 465.00,303.20 472.00,304.60 485.00,305.20" fill="none" stroke="#d2343c" stroke-width="0.9" stroke-linejoin="round" />
<polyline points="392.00,305.00 398.00,304.20 402.40,302.60 407.00,297.60 411.80,287.80 414.30,280.00 416.70,270.70 418.60,262.00 420.40,253.70 422.20,244.00 424.00,234.10 425.30,226.00 426.50,219.50 427.70,213.50 428.90,209.50 429.80,207.60 430.80,208.20 432.00,212.50 433.40,219.50 434.60,228.00 435.80,236.50 437.60,246.00 439.50,256.00 441.30,265.00 443.10,273.00 444.90,279.50 446.80,285.20 449.00,289.80 451.60,293.70 455.00,297.00 459.00,299.80 465.00,303.00 472.00,304.60 485.00,305.20" fill="none" stroke="#3b4a9b" stroke-width="0.9" stroke-linejoin="round" />
<polyline points="353.00,305.00 358.00,300.00 361.00,292.00 363.00,282.00 364.80,270.00 366.50,255.00 368.50,238.00 370.50,222.00 372.50,212.00 374.30,206.30 375.50,208.00 377.00,216.00 378.50,228.00 380.00,240.00 382.00,255.00 384.00,268.00 386.50,280.00 389.00,290.00 391.50,298.00 394.00,303.00 397.00,305.00" fill="none" stroke="#f2e21a" stroke-width="1.0" stroke-linejoin="round" />
<polyline points="351.00,305.00 354.00,301.00 357.30,292.00 360.00,276.00 362.30,260.00 364.00,251.00 366.00,242.60 368.00,232.00 369.70,222.80 371.50,214.00 373.40,209.00 374.70,206.50 376.00,211.00 377.10,217.80 378.40,226.00 379.60,235.10 381.50,248.00 383.30,259.90 385.50,272.00 388.30,284.60 390.30,292.00 392.00,297.00 394.50,303.00 398.00,305.00 430.00,305.20" fill="none" stroke="#111" stroke-width="1.1" stroke-linejoin="round" stroke-dasharray="1.2,1.3"/>
<text x="5.20" y="338.30" font-size="17.5" font-weight="bold" text-anchor="start" fill="#231f20"  style="">F</text>
<line x1="54.70" y1="342.70" x2="54.70" y2="422.50" stroke="#231f20" stroke-width="1.4" />
<line x1="50.20" y1="343.40" x2="54.70" y2="343.40" stroke="#231f20" stroke-width="1.4" />
<line x1="50.20" y1="369.53" x2="54.70" y2="369.53" stroke="#231f20" stroke-width="1.4" />
<line x1="50.20" y1="395.67" x2="54.70" y2="395.67" stroke="#231f20" stroke-width="1.4" />
<line x1="50.20" y1="421.80" x2="54.70" y2="421.80" stroke="#231f20" stroke-width="1.4" />
<line x1="52.70" y1="348.63" x2="54.70" y2="348.63" stroke="#231f20" stroke-width="1.1" />
<line x1="52.70" y1="353.85" x2="54.70" y2="353.85" stroke="#231f20" stroke-width="1.1" />
<line x1="52.70" y1="359.08" x2="54.70" y2="359.08" stroke="#231f20" stroke-width="1.1" />
<line x1="52.70" y1="364.31" x2="54.70" y2="364.31" stroke="#231f20" stroke-width="1.1" />
<line x1="52.70" y1="374.76" x2="54.70" y2="374.76" stroke="#231f20" stroke-width="1.1" />
<line x1="52.70" y1="379.99" x2="54.70" y2="379.99" stroke="#231f20" stroke-width="1.1" />
<line x1="52.70" y1="385.21" x2="54.70" y2="385.21" stroke="#231f20" stroke-width="1.1" />
<line x1="52.70" y1="390.44" x2="54.70" y2="390.44" stroke="#231f20" stroke-width="1.1" />
<line x1="52.70" y1="400.89" x2="54.70" y2="400.89" stroke="#231f20" stroke-width="1.1" />
<line x1="52.70" y1="406.12" x2="54.70" y2="406.12" stroke="#231f20" stroke-width="1.1" />
<line x1="52.70" y1="411.35" x2="54.70" y2="411.35" stroke="#231f20" stroke-width="1.1" />
<line x1="52.70" y1="416.57" x2="54.70" y2="416.57" stroke="#231f20" stroke-width="1.1" />
<line x1="69.40" y1="421.80" x2="69.40" y2="424.30" stroke="#231f20" stroke-width="1.1" />
<line x1="98.40" y1="421.80" x2="98.40" y2="424.30" stroke="#231f20" stroke-width="1.1" />
<line x1="50.50" y1="421.80" x2="109.20" y2="421.80" stroke="#231f20" stroke-width="1.4" />
<text x="49.00" y="347.30" font-size="10.5" font-weight="bold" text-anchor="end" fill="#231f20"  style="">30</text>
<text x="49.00" y="373.43" font-size="10.5" font-weight="bold" text-anchor="end" fill="#231f20"  style="">20</text>
<text x="49.00" y="399.57" font-size="10.5" font-weight="bold" text-anchor="end" fill="#231f20"  style="">10</text>
<text x="49.00" y="425.70" font-size="10.5" font-weight="bold" text-anchor="end" fill="#231f20"  style="">0</text>
<rect x="59.70" y="349.41" width="19.30" height="72.39" fill="#231f20" stroke="#231f20" stroke-width="1.3"/>
<rect x="88.90" y="418.27" width="19.30" height="3.53" fill="#fff" stroke="#231f20" stroke-width="1.3"/>
<text x="70.40" y="433.20" font-size="9.6" font-weight="bold" text-anchor="middle" fill="#231f20"  style="">shLuc</text>
<text x="102.10" y="433.20" font-size="9.6" font-weight="bold" text-anchor="middle" fill="#231f20"  style="">shAxl</text>
<text transform="translate(17.20,378.30) rotate(-90)" x="0" y="0" font-size="11.1" font-weight="bold" text-anchor="middle" fill="#231f20">Expression</text>
<text transform="translate(30.30,377.00) rotate(-90)" x="0" y="0" font-size="10.8" font-weight="bold" text-anchor="middle" fill="#231f20">(fold change)</text>
<line x1="157.60" y1="345.20" x2="157.60" y2="420.00" stroke="#9a9a9a" stroke-width="1.1" />
<line x1="154.60" y1="345.70" x2="157.60" y2="345.70" stroke="#231f20" stroke-width="1.2" />
<line x1="154.60" y1="360.56" x2="157.60" y2="360.56" stroke="#231f20" stroke-width="1.2" />
<line x1="154.60" y1="375.42" x2="157.60" y2="375.42" stroke="#231f20" stroke-width="1.2" />
<line x1="154.60" y1="390.28" x2="157.60" y2="390.28" stroke="#231f20" stroke-width="1.2" />
<line x1="154.60" y1="405.14" x2="157.60" y2="405.14" stroke="#231f20" stroke-width="1.2" />
<line x1="154.60" y1="420.00" x2="157.60" y2="420.00" stroke="#231f20" stroke-width="1.2" />
<line x1="156.00" y1="420.00" x2="258.70" y2="420.00" stroke="#231f20" stroke-width="1.3" />
<text x="153.80" y="348.70" font-size="8.6" font-weight="bold" text-anchor="end" fill="#231f20"  style="">2,500</text>
<text x="153.80" y="363.56" font-size="8.6" font-weight="bold" text-anchor="end" fill="#231f20"  style="">2,000</text>
<text x="153.80" y="378.42" font-size="8.6" font-weight="bold" text-anchor="end" fill="#231f20"  style="">1,500</text>
<text x="153.80" y="393.28" font-size="8.6" font-weight="bold" text-anchor="end" fill="#231f20"  style="">1,000</text>
<text x="153.80" y="408.14" font-size="8.6" font-weight="bold" text-anchor="end" fill="#231f20"  style="">500</text>
<text x="153.80" y="423.00" font-size="8.6" font-weight="bold" text-anchor="end" fill="#231f20"  style="">0</text>
<line x1="163.20" y1="420.00" x2="163.20" y2="422.50" stroke="#231f20" stroke-width="1.2" />
<text x="163.20" y="430.60" font-size="9" font-weight="bold" text-anchor="middle" fill="#231f20"  style="">30</text>
<line x1="193.37" y1="420.00" x2="193.37" y2="422.50" stroke="#231f20" stroke-width="1.2" />
<text x="193.37" y="430.60" font-size="9" font-weight="bold" text-anchor="middle" fill="#231f20"  style="">40</text>
<line x1="223.53" y1="420.00" x2="223.53" y2="422.50" stroke="#231f20" stroke-width="1.2" />
<text x="223.53" y="430.60" font-size="9" font-weight="bold" text-anchor="middle" fill="#231f20"  style="">50</text>
<line x1="253.70" y1="420.00" x2="253.70" y2="422.50" stroke="#231f20" stroke-width="1.2" />
<text x="253.70" y="430.60" font-size="9" font-weight="bold" text-anchor="middle" fill="#231f20"  style="">60</text>
<line x1="178.28" y1="420.00" x2="178.28" y2="421.50" stroke="#231f20" stroke-width="1.0" />
<line x1="208.45" y1="420.00" x2="208.45" y2="421.50" stroke="#231f20" stroke-width="1.0" />
<line x1="238.62" y1="420.00" x2="238.62" y2="421.50" stroke="#231f20" stroke-width="1.0" />
<polyline points="157.17,416.14 193.37,417.03 217.50,405.14 253.70,365.02" fill="none" stroke="#231f20" stroke-width="1.6"/>
<line x1="253.70" y1="349.27" x2="253.70" y2="380.18" stroke="#231f20" stroke-width="1.4" />
<line x1="250.20" y1="349.27" x2="257.20" y2="349.27" stroke="#231f20" stroke-width="1.4" />
<line x1="250.20" y1="380.18" x2="257.20" y2="380.18" stroke="#231f20" stroke-width="1.4" />
<circle cx="157.17" cy="420.00" r="3.1" fill="#fff" stroke="#231f20" stroke-width="1.3"/>
<circle cx="193.37" cy="420.00" r="3.1" fill="#fff" stroke="#231f20" stroke-width="1.3"/>
<circle cx="217.50" cy="420.00" r="3.1" fill="#fff" stroke="#231f20" stroke-width="1.3"/>
<circle cx="253.70" cy="420.00" r="3.1" fill="#fff" stroke="#231f20" stroke-width="1.3"/>
<line x1="157.17" y1="420.00" x2="253.70" y2="420.00" stroke="#231f20" stroke-width="1.4" />
<rect x="154.07" y="413.04" width="6.20" height="6.20" fill="#231f20" stroke="#231f20" stroke-width="1.3"/>
<rect x="190.27" y="413.93" width="6.20" height="6.20" fill="#231f20" stroke="#231f20" stroke-width="1.3"/>
<rect x="214.40" y="402.04" width="6.20" height="6.20" fill="#231f20" stroke="#231f20" stroke-width="1.3"/>
<rect x="250.60" y="361.92" width="6.20" height="6.20" fill="#231f20" stroke="#231f20" stroke-width="1.3"/>
<rect x="160.00" y="356.10" width="6.20" height="6.20" fill="#231f20" stroke="#231f20" stroke-width="1.3"/>
<circle cx="163.1" cy="369.7" r="3.1" fill="#fff" stroke="#231f20" stroke-width="1.3"/>
<line x1="160.00" y1="369.70" x2="166.20" y2="369.70" stroke="#231f20" stroke-width="1.1" />
<text x="170.20" y="362.30" font-size="9" font-weight="bold" text-anchor="start" fill="#231f20"  style="">shLuc</text>
<text x="170.20" y="373.00" font-size="9" font-weight="bold" text-anchor="start" fill="#231f20"  style="">shAxl</text>
<text transform="translate(127.3,381.2) rotate(-90)" font-size="10.7" font-weight="bold" text-anchor="middle" fill="#231f20">Tumor vol-(mm<tspan dy="-4" font-size="7.5">3</tspan><tspan dy="4">)</tspan></text>
<text x="207.40" y="443.00" font-size="10.7" font-weight="bold" text-anchor="middle" fill="#231f20"  style="">Days after injection</text>
<text x="271.60" y="338.20" font-size="17.5" font-weight="bold" text-anchor="start" fill="#231f20"  style="">G</text>
<line x1="316.20" y1="347.90" x2="316.20" y2="434.10" stroke="#231f20" stroke-width="1.5" />
<line x1="312.20" y1="348.60" x2="316.20" y2="348.60" stroke="#231f20" stroke-width="1.5" />
<line x1="312.20" y1="369.80" x2="316.20" y2="369.80" stroke="#231f20" stroke-width="1.5" />
<line x1="312.20" y1="391.00" x2="316.20" y2="391.00" stroke="#231f20" stroke-width="1.5" />
<line x1="312.20" y1="412.20" x2="316.20" y2="412.20" stroke="#231f20" stroke-width="1.5" />
<line x1="312.20" y1="433.40" x2="316.20" y2="433.40" stroke="#231f20" stroke-width="1.5" />
<line x1="314.20" y1="352.84" x2="316.20" y2="352.84" stroke="#231f20" stroke-width="1.1" />
<line x1="314.20" y1="357.08" x2="316.20" y2="357.08" stroke="#231f20" stroke-width="1.1" />
<line x1="314.20" y1="361.32" x2="316.20" y2="361.32" stroke="#231f20" stroke-width="1.1" />
<line x1="314.20" y1="365.56" x2="316.20" y2="365.56" stroke="#231f20" stroke-width="1.1" />
<line x1="314.20" y1="374.04" x2="316.20" y2="374.04" stroke="#231f20" stroke-width="1.1" />
<line x1="314.20" y1="378.28" x2="316.20" y2="378.28" stroke="#231f20" stroke-width="1.1" />
<line x1="314.20" y1="382.52" x2="316.20" y2="382.52" stroke="#231f20" stroke-width="1.1" />
<line x1="314.20" y1="386.76" x2="316.20" y2="386.76" stroke="#231f20" stroke-width="1.1" />
<line x1="314.20" y1="395.24" x2="316.20" y2="395.24" stroke="#231f20" stroke-width="1.1" />
<line x1="314.20" y1="399.48" x2="316.20" y2="399.48" stroke="#231f20" stroke-width="1.1" />
<line x1="314.20" y1="403.72" x2="316.20" y2="403.72" stroke="#231f20" stroke-width="1.1" />
<line x1="314.20" y1="407.96" x2="316.20" y2="407.96" stroke="#231f20" stroke-width="1.1" />
<line x1="314.20" y1="416.44" x2="316.20" y2="416.44" stroke="#231f20" stroke-width="1.1" />
<line x1="314.20" y1="420.68" x2="316.20" y2="420.68" stroke="#231f20" stroke-width="1.1" />
<line x1="314.20" y1="424.92" x2="316.20" y2="424.92" stroke="#231f20" stroke-width="1.1" />
<line x1="314.20" y1="429.16" x2="316.20" y2="429.16" stroke="#231f20" stroke-width="1.1" />
<line x1="315.60" y1="433.40" x2="401.00" y2="433.40" stroke="#231f20" stroke-width="1.5" />
<text x="311.80" y="352.40" font-size="10.5" font-weight="bold" text-anchor="end" fill="#231f20"  style="">2.0</text>
<text x="311.80" y="373.60" font-size="10.5" font-weight="bold" text-anchor="end" fill="#231f20"  style="">1.5</text>
<text x="311.80" y="394.80" font-size="10.5" font-weight="bold" text-anchor="end" fill="#231f20"  style="">1.0</text>
<text x="311.80" y="416.00" font-size="10.5" font-weight="bold" text-anchor="end" fill="#231f20"  style="">0.5</text>
<text x="311.80" y="437.20" font-size="10.5" font-weight="bold" text-anchor="end" fill="#231f20"  style="">0.0</text>
<text transform="translate(293.00,387.20) rotate(-90)" x="0" y="0" font-size="10.7" font-weight="bold" text-anchor="middle" fill="#231f20">Tumor weight (g)</text>
<rect x="323.80" y="355.70" width="30.40" height="77.70" fill="#231f20" stroke="#231f20" stroke-width="1.3"/>
<line x1="339.00" y1="355.60" x2="339.00" y2="373.50" stroke="#fff" stroke-width="1.6" />
<line x1="331.30" y1="373.50" x2="346.60" y2="373.50" stroke="#fff" stroke-width="1.6" />
<rect x="369.30" y="386.60" width="30.40" height="46.80" fill="#fff" stroke="#231f20" stroke-width="1.3"/>
<line x1="384.50" y1="386.60" x2="384.50" y2="372.60" stroke="#231f20" stroke-width="1.5" />
<line x1="376.80" y1="372.60" x2="391.60" y2="372.60" stroke="#231f20" stroke-width="1.5" />
<line x1="339.00" y1="433.40" x2="339.00" y2="435.90" stroke="#231f20" stroke-width="1.2" />
<line x1="384.50" y1="433.40" x2="384.50" y2="435.90" stroke="#231f20" stroke-width="1.2" />
<text x="339.40" y="444.20" font-size="9.5" font-weight="bold" text-anchor="middle" fill="#231f20"  style="">Control</text>
<text x="384.60" y="444.20" font-size="9.7" font-weight="bold" text-anchor="middle" fill="#231f20"  style="">10C9</text>
<line x1="441.50" y1="338.30" x2="441.50" y2="432.20" stroke="#231f20" stroke-width="1.5" />
<line x1="437.50" y1="339.00" x2="441.50" y2="339.00" stroke="#231f20" stroke-width="1.5" />
<line x1="437.50" y1="369.83" x2="441.50" y2="369.83" stroke="#231f20" stroke-width="1.5" />
<line x1="437.50" y1="400.67" x2="441.50" y2="400.67" stroke="#231f20" stroke-width="1.5" />
<line x1="437.50" y1="431.50" x2="441.50" y2="431.50" stroke="#231f20" stroke-width="1.5" />
<line x1="439.50" y1="345.17" x2="441.50" y2="345.17" stroke="#231f20" stroke-width="1.1" />
<line x1="439.50" y1="351.33" x2="441.50" y2="351.33" stroke="#231f20" stroke-width="1.1" />
<line x1="439.50" y1="357.50" x2="441.50" y2="357.50" stroke="#231f20" stroke-width="1.1" />
<line x1="439.50" y1="363.67" x2="441.50" y2="363.67" stroke="#231f20" stroke-width="1.1" />
<line x1="439.50" y1="376.00" x2="441.50" y2="376.00" stroke="#231f20" stroke-width="1.1" />
<line x1="439.50" y1="382.17" x2="441.50" y2="382.17" stroke="#231f20" stroke-width="1.1" />
<line x1="439.50" y1="388.33" x2="441.50" y2="388.33" stroke="#231f20" stroke-width="1.1" />
<line x1="439.50" y1="394.50" x2="441.50" y2="394.50" stroke="#231f20" stroke-width="1.1" />
<line x1="439.50" y1="406.83" x2="441.50" y2="406.83" stroke="#231f20" stroke-width="1.1" />
<line x1="439.50" y1="413.00" x2="441.50" y2="413.00" stroke="#231f20" stroke-width="1.1" />
<line x1="439.50" y1="419.17" x2="441.50" y2="419.17" stroke="#231f20" stroke-width="1.1" />
<line x1="439.50" y1="425.33" x2="441.50" y2="425.33" stroke="#231f20" stroke-width="1.1" />
<line x1="440.80" y1="431.50" x2="520.00" y2="431.50" stroke="#231f20" stroke-width="1.5" />
<text x="436.70" y="342.80" font-size="10.5" font-weight="bold" text-anchor="end" fill="#231f20"  style="">1.5</text>
<text x="436.70" y="373.63" font-size="10.5" font-weight="bold" text-anchor="end" fill="#231f20"  style="">1.0</text>
<text x="436.70" y="404.47" font-size="10.5" font-weight="bold" text-anchor="end" fill="#231f20"  style="">0.5</text>
<text x="436.70" y="435.30" font-size="10.5" font-weight="bold" text-anchor="end" fill="#231f20"  style="">0.0</text>
<text transform="translate(419.60,382.40) rotate(-90)" x="0" y="0" font-size="10.0" font-weight="bold" text-anchor="middle" fill="#231f20">Mets fold change</text>
<line x1="461.60" y1="358.00" x2="461.60" y2="381.30" stroke="#231f20" stroke-width="1.5" />
<line x1="457.60" y1="358.00" x2="465.60" y2="358.00" stroke="#231f20" stroke-width="1.5" />
<line x1="457.60" y1="381.30" x2="465.60" y2="381.30" stroke="#231f20" stroke-width="1.5" />
<rect x="458.80" y="366.90" width="5.80" height="5.80" fill="#231f20" stroke="#231f20" stroke-width="1.3"/>
<circle cx="500.6" cy="427.6" r="3.1" fill="#fff" stroke="#231f20" stroke-width="1.5"/>
<line x1="500.60" y1="423.70" x2="500.60" y2="431.50" stroke="#231f20" stroke-width="1.4" />
<line x1="496.80" y1="423.70" x2="504.40" y2="423.70" stroke="#231f20" stroke-width="1.5" />
<line x1="461.60" y1="431.50" x2="461.60" y2="434.00" stroke="#231f20" stroke-width="1.2" />
<line x1="500.40" y1="431.50" x2="500.40" y2="434.00" stroke="#231f20" stroke-width="1.2" />
<text y="418.70" font-size="8.1" fill="#231f20"><tspan x="481.50" font-style="italic" font-weight="bold" font-size="7.9">P</tspan><tspan x="488.60" font-weight="bold" font-size="7.2" dy="0.4">=</tspan><tspan x="494.40" font-weight="bold" dy="-0.4">0.001</tspan></text>
<text x="460.40" y="442.60" font-size="9.6" font-weight="bold" text-anchor="middle" fill="#231f20"  style="">Control</text>
<text x="500.50" y="442.60" font-size="9.7" font-weight="bold" text-anchor="middle" fill="#231f20"  style="">10C9</text>
<text x="415.70" y="451.30" font-size="7.8" font-weight="normal" text-anchor="start" fill="#231f20"  style="">Incidence:&#160;&#160;100%</text>
<text x="502.00" y="451.30" font-size="7.8" font-weight="normal" text-anchor="middle" fill="#231f20"  style="">13%</text>
</svg>
</body></html>
